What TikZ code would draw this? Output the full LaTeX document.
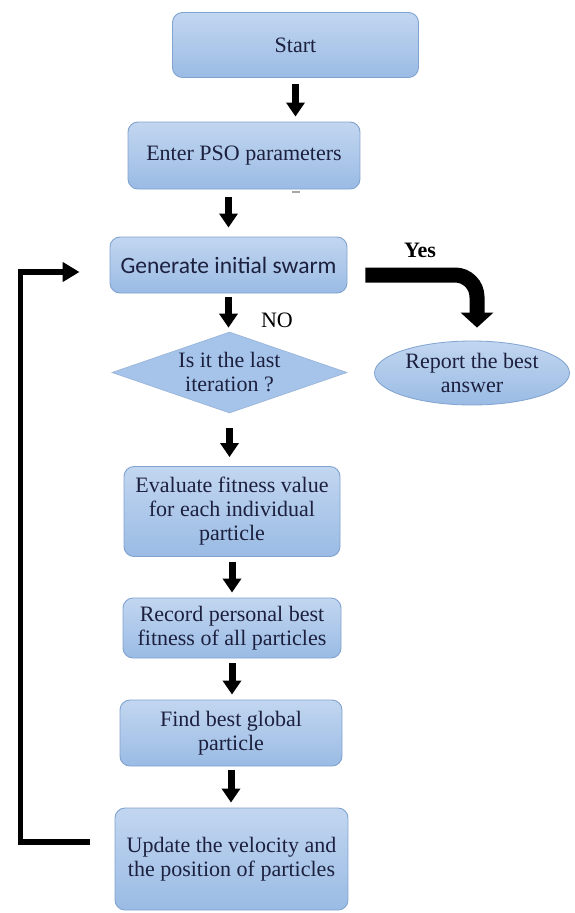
\documentclass[tikz,border=0pt]{standalone}
\usepackage{fontspec}
\setmainfont{Liberation Serif}
\newfontfamily\calibrifont{Carlito}
\usetikzlibrary{shapes.geometric,arrows.meta}
\definecolor{boxtop}{RGB}{194,214,240}
\definecolor{boxbot}{RGB}{154,187,228}
\definecolor{boxline}{RGB}{128,163,208}
\definecolor{boxflat}{RGB}{166,196,234}
\definecolor{ink}{RGB}{28,32,62}

\begin{document}
\begin{tikzpicture}[x=1pt,y=-1pt,
  stepbox/.style={rectangle, rounded corners=10pt, top color=boxtop, bottom color=boxbot,
    draw=boxline, line width=0.9pt, inner sep=0pt, align=center, text=ink,
    font=\fontsize{22}{24}\selectfont},
  decision/.style={diamond, aspect=2.9, fill=boxflat, draw=boxline!80, line width=0.7pt,
    inner sep=0pt, minimum width=235pt, minimum height=81pt, align=center, text=ink,
    font=\fontsize{22}{24}\selectfont},
  endbox/.style={ellipse, top color=boxtop, bottom color=boxbot, draw=boxline, line width=0.8pt,
    inner sep=0pt, minimum width=195pt, minimum height=64pt, align=center, text=ink,
    font=\fontsize{22}{24}\selectfont},
  tag/.style={inner sep=0pt, text=black, font=\fontsize{22}{24}\selectfont},
  flowarrow/.style={line width=7pt, -{Triangle[width=18pt,length=14pt]}},
  yesarrow/.style={line width=15pt, -{Triangle[width=32pt,length=15pt]}},
  looparrow/.style={line width=5.5pt, line join=miter, -{Triangle[width=19pt,length=17pt]}}
]
\fill[white] (0,0) rectangle (574,913);
\useasboundingbox (0,0) rectangle (574,913);

% process steps
\node[stepbox, minimum width=246pt, minimum height=65pt] (start) at (295.5,45) {Start};
\node[stepbox, minimum width=232pt, minimum height=67pt] (enter) at (244,155.5) {Enter PSO parameters};
\node[stepbox, minimum width=237pt, minimum height=56pt, font=\calibrifont\fontsize{23.5}{26}\selectfont] (gen) at (228.5,265) {Generate initial swarm};
\node[decision] (dec) at (229.5,372.5) {Is it the last\\iteration ?};
\node[endbox] (report) at (472,373) {Report the best\\answer};
\node[stepbox, minimum width=216pt, minimum height=90pt] (eval) at (232,511.5) {Evaluate fitness value\\for each individual\\particle};
\node[stepbox, minimum width=218pt, minimum height=60pt] (record) at (232,628) {Record personal best\\fitness of all particles};
\node[stepbox, minimum width=222pt, minimum height=66pt] (find) at (231,733) {Find best global\\particle};
\node[stepbox, minimum width=233pt, minimum height=102pt] (update) at (231.5,859) {Update the velocity and\\the position of particles};

% branch labels
\node[tag, font=\bfseries\fontsize{22}{24}\selectfont] (yes) at (420,250) {Yes};
\node[tag] (no) at (277,320) {NO};

% main flow
\draw[flowarrow, shorten <=6pt, shorten >=5pt] (start.south) -- (start.south |- enter.north);
\draw[flowarrow, shorten <=8pt, shorten >=9pt] (enter.south -| gen.north) -- (gen.north);
\draw[flowarrow, shorten <=4pt, shorten >=4pt] (gen.south) -- (gen.south |- dec.north);
\draw[flowarrow, shorten <=15pt, shorten >=9pt] (dec.south) -- (dec.south |- eval.north);
\draw[flowarrow, shorten <=5pt, shorten >=5pt] (eval.south) -- (eval.south |- record.north);
\draw[flowarrow, shorten <=5pt, shorten >=5pt] (record.south) -- (record.south |- find.north);
\draw[flowarrow, shorten <=4pt, shorten >=5pt] (find.south) -- (find.south |- update.north);

% exit branch
\draw[yesarrow, rounded corners=22pt, shorten >=13pt] ([xshift=18pt,yshift=-10pt]gen.east) -| ([xshift=5pt]report.north);

% feedback loop
\draw[looparrow] ([xshift=-25pt,yshift=17pt]update.west) -- ++(-69,0) |- ([xshift=-30pt,yshift=-7pt]gen.west);

% small stroke under the parameters box
\draw[gray!70, line width=1.2pt] (292,192) -- (300,192);
\end{tikzpicture}
\end{document}
